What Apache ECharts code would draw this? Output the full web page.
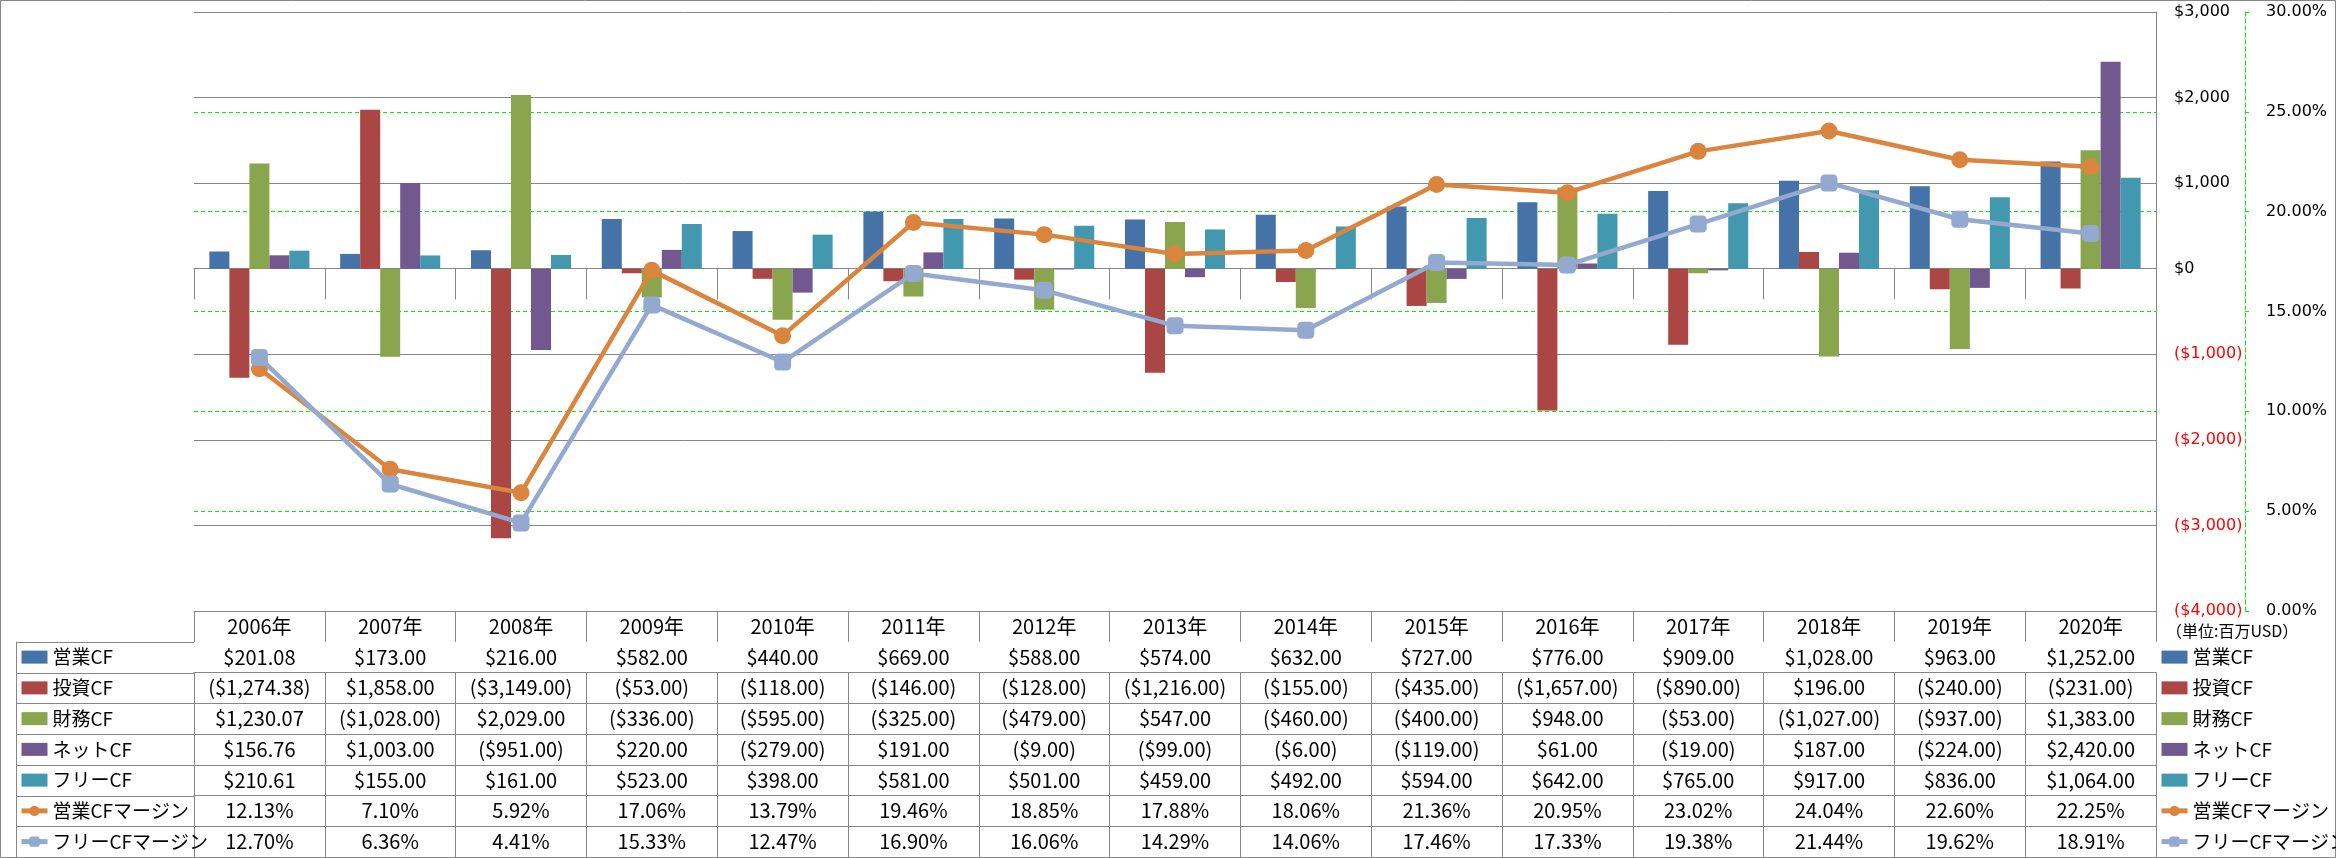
<!DOCTYPE html>
<html>
<head>
<meta charset="utf-8">
<script src="https://cdn.jsdelivr.net/npm/echarts@6/dist/echarts.min.js"></script>
<style>
html,body{margin:0;padding:0;background:#fff;}
#chart{width:2336px;height:858px;}
</style>
</head>
<body>
<div id="chart"></div>
<script>
// ---- data ----
const years = ['2006年','2007年','2008年','2009年','2010年','2011年','2012年','2013年','2014年','2015年','2016年','2017年','2018年','2019年','2020年'];
const seriesNames = ['営業CF','投資CF','財務CF','ネットCF','フリーCF','営業CFマージン','フリーCFマージン'];
const opCF   = [201.08,173,216,582,440,669,588,574,632,727,776,909,1028,963,1252];
const invCF  = [-1274.38,1858,-3149,-53,-118,-146,-128,-1216,-155,-435,-1657,-890,196,-240,-231];
const finCF  = [1230.07,-1028,2029,-336,-595,-325,-479,547,-460,-400,948,-53,-1027,-937,1383];
const netCF  = [156.76,1003,-951,220,-279,191,-9,-99,-6,-119,61,-19,187,-224,2420];
const freeCF = [210.61,155,161,523,398,581,501,459,492,594,642,765,917,836,1064];
const opMargin   = [12.13,7.10,5.92,17.06,13.79,19.46,18.85,17.88,18.06,21.36,20.95,23.02,24.04,22.60,22.25];
const freeMargin = [12.70,6.36,4.41,15.33,12.47,16.90,16.06,14.29,14.06,17.46,17.33,19.38,21.44,19.62,18.91];
const unitLabel = '（単位:百万USD）';

// ---- style ----
const colors = ['#4572A7','#AA4643','#89A54E','#71588F','#4198AF','#DB843D','#93A9CF'];
const gray = '#868686';
const green = '#00F000';
const tableFont = '"Liberation Sans Narrow","Arial Narrow","Noto Sans CJK JP",sans-serif';
const axisFont = '"DejaVu Sans",Verdana,sans-serif';
const gridLeft = 194, gridRight = 180, gridTop = 12, gridBottom = 247;
const rowH = 30.75;

const cfRows = [opCF, invCF, finCF, netCF, freeCF];
const marginRows = [opMargin, freeMargin];

function money(v, dec){
  const s = '$' + Math.abs(v).toLocaleString('en-US',{minimumFractionDigits:dec, maximumFractionDigits:dec});
  return v < 0 ? '(' + s + ')' : s;
}
function cellText(row, i){
  if (row < 5) return money(cfRows[row][i], 2);
  return marginRows[row-5][i].toFixed(2) + '%';
}

const chart = echarts.init(document.getElementById('chart'), null, {renderer:'canvas'});

const xAxes = [];
for (let k = 0; k <= 8; k++){
  xAxes.push({
    type:'category', data: years, gridIndex:0, position:'bottom', offset: k*rowH,
    boundaryGap:true,
    axisLine:{show:true, lineStyle:{color:gray, width:1}},
    axisTick:{show:k<8, length:rowH, interval:0, alignWithLabel:false, lineStyle:{color:gray, width:1}},
    axisLabel:{show:k<8, interval:0, hideOverlap:false, margin:rowH/2, verticalAlign:'middle',
      fontFamily: tableFont, fontSize:20, color:'#000',
      formatter: (v, i) => k === 0 ? v : cellText(k-1, i)},
    splitLine:{show:false}
  });
}

const barSeries = cfRows.map((d, i) => ({
  name: seriesNames[i], type:'bar', data:d, xAxisIndex:0, yAxisIndex:0,
  barGap:'0%', barCategoryGap:'23.5%',
  itemStyle:{color:colors[i]}, emphasis:{disabled:true}
}));
const lineSeries = marginRows.map((d, j) => ({
  name: seriesNames[5+j], type:'line', data:d, xAxisIndex:0, yAxisIndex:1,
  symbol: j === 0 ? 'circle' : 'roundRect', symbolSize: 17,
  showAllSymbol:true,
  lineStyle:{color:colors[5+j], width:4.5},
  itemStyle:{color:colors[5+j]}, emphasis:{disabled:true}, z:3+j
}));

function legendCfg(left){
  return {
    orient:'vertical', left:left, top: tableTop + rowH + (rowH-20)/2,
    padding:0, itemGap: rowH-20, itemWidth:26, itemHeight:13, selectedMode:false,
    textStyle:{fontFamily: tableFont, fontSize:19, lineHeight:20, color:'#000'},
    data: seriesNames.map((n, i) => i < 5 ? {name:n, icon:'rect'} :
      {name:n, lineStyle:{width:5}})
  };
}

const tableTop = 858 - gridBottom;
const leftColX = 16;
const graphics = [
  {type:'rect', silent:true, shape:{x:0.5,y:0.5,width:2335,height:857}, style:{fill:'none', stroke:gray, lineWidth:1}},
  {type:'line', silent:true, shape:{x1:leftColX+0.5, y1:tableTop+rowH, x2:leftColX+0.5, y2:tableTop+8*rowH}, style:{stroke:gray, lineWidth:1}},
  {type:'text', silent:true, left:2166, top:tableTop+12, style:{text:unitLabel, fontFamily:'"Noto Sans CJK JP",sans-serif', fontSize:16, fill:'#000'}}
];
for (let k = 1; k <= 8; k++){
  const y = Math.round(tableTop + k*rowH) + 0.5;
  graphics.push({type:'line', silent:true, shape:{x1:leftColX, y1:y, x2:gridLeft, y2:y}, style:{stroke:gray, lineWidth:1}});
}

chart.setOption({
  animation:false,
  backgroundColor:'#fff',
  color: colors,
  grid:{left:gridLeft, right:gridRight, top:gridTop, bottom:gridBottom, containLabel:false, outerBoundsMode:'none'},
  legend:[legendCfg(19), legendCfg(2159)],
  xAxis: xAxes,
  yAxis:[
    {type:'value', position:'right', min:-4000, max:3000, interval:1000,
     axisLine:{show:true, lineStyle:{color:gray, width:1}}, axisTick:{show:false},
     axisLabel:{margin:18, fontFamily:axisFont, fontSize:16, color:'#000',
       formatter: v => v < 0 ? '{neg|' + money(v,0) + '}' : money(v,0),
       rich:{neg:{color:'#FF0000', fontFamily:axisFont, fontSize:16}}},
     splitLine:{show:true, lineStyle:{color:gray, width:1}}},
    {type:'value', position:'right', offset:89, min:0, max:30, interval:5,
     axisLine:{show:true, lineStyle:{color:green, width:1, type:[4,3]}},
     axisTick:{show:true, length:4, lineStyle:{color:green, width:1}},
     axisLabel:{margin:21, fontFamily:axisFont, fontSize:16, color:'#000', formatter: v => v.toFixed(2) + '%'},
     splitLine:{show:true, showMinLine:false, showMaxLine:false, lineStyle:{color:green, width:1, type:[4,3]}}}
  ],
  series: barSeries.concat(lineSeries),
  graphic: graphics
});
</script>
</body>
</html>
